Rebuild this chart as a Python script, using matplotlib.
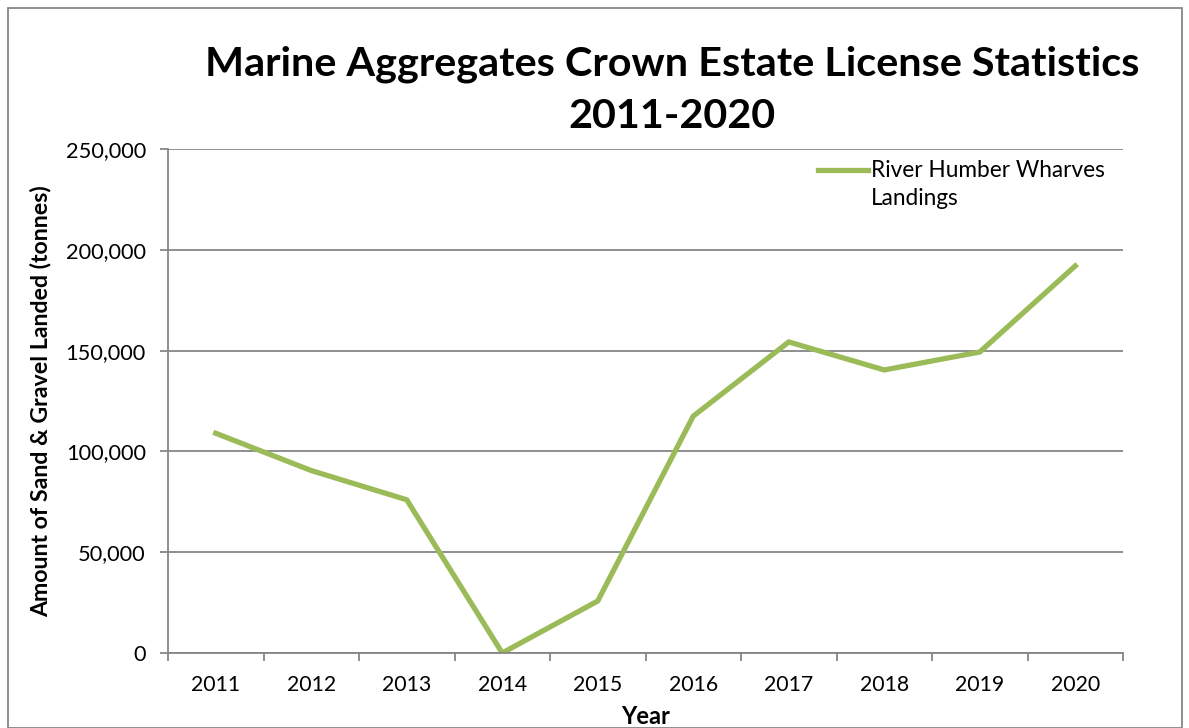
import matplotlib.pyplot as plt
from matplotlib.patches import Rectangle
from matplotlib.ticker import FuncFormatter
from matplotlib.legend_handler import HandlerLine2D

plt.rcParams['font.family'] = ['Lato', 'DejaVu Sans']

years = ['2011', '2012', '2013', '2014', '2015', '2016', '2017', '2018', '2019', '2020']
landings = [109000, 90500, 76000, 0, 25800, 117500, 154300, 140400, 149300, 192000]
series_name = 'River Humber Wharves\nLandings'
title = 'Marine Aggregates Crown Estate License Statistics\n2011-2020'

grey = '#868686'
green = '#9BBB59'


class FirstLineHandler(HandlerLine2D):
    # put the legend line next to the first text line, like Excel does
    def create_artists(self, *args, **kwargs):
        arts = super().create_artists(*args, **kwargs)
        for a in arts:
            a.set_ydata([y + 11 for y in a.get_ydata()])
        return arts


fig = plt.figure(figsize=(11.89, 7.28), dpi=100)
ax = fig.add_axes([168/1189, 75/728, 955/1189, 504/728])

x = range(len(years))
line, = ax.plot(x, landings, color=green, lw=3.8, solid_joinstyle='miter', label=series_name)

ax.set_xlim(-0.5, len(years) - 0.5)
ax.set_ylim(0, 250000)
ax.set_yticks(range(0, 250001, 50000))
ax.yaxis.set_major_formatter(FuncFormatter(lambda v, p: f'{int(v):,}'))
ax.set_xticks(list(x))
ax.set_xticklabels(years)
ax.set_xticks([i - 0.5 for i in range(len(years) + 1)], minor=True)
ax.tick_params(axis='x', which='major', length=0, pad=16, labelsize=15.3)
ax.tick_params(axis='x', which='minor', length=6, color=grey, width=1.3)
ax.tick_params(axis='y', length=6, color=grey, width=1.3, pad=10, labelsize=15.7)

ax.grid(axis='y', color=grey, lw=1.3)
ax.set_axisbelow(True)
for s in ['top', 'right']:
    ax.spines[s].set_visible(False)
for s in ['left', 'bottom']:
    ax.spines[s].set_color(grey)
    ax.spines[s].set_linewidth(1.3)

ax.set_xlabel('Year', fontsize=17, fontweight='bold')
ax.xaxis.set_label_coords(0.5, -(717 - 653) / 504, transform=ax.transAxes)
ax.xaxis.label.set_va('center')
ax.set_ylabel('Amount of Sand & Gravel Landed (tonnes)', fontsize=16.7, fontweight='bold')
ax.yaxis.set_label_coords(-(168 - 41) / 955, 0.5)
ax.yaxis.label.set_va('center')

fig.text(672/1189, 1 - 90/728, title, ha='center', va='center', fontsize=29.8,
         fontweight='bold', linespacing=1.5)

leg = ax.legend(handler_map={line: FirstLineHandler()}, loc='upper left',
                bbox_to_anchor=((818 - 168) / 955 - 0.015, 1.0 + 0.008), frameon=False,
                fontsize=16.3, handlelength=2.2, handletextpad=0.12, borderaxespad=0.25)
for t in leg.get_texts():
    t.set_linespacing(1.45)

fig.patches.append(Rectangle((8/1189, 0), 1174/1189, 720/728, transform=fig.transFigure,
                             fill=False, edgecolor=grey, lw=1.3))

fig.savefig('out.png', dpi=100)
